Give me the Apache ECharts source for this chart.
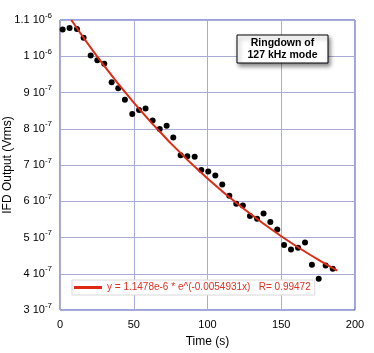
<!DOCTYPE html>
<html>
<head>
<meta charset="utf-8">
<script src="https://cdn.jsdelivr.net/npm/echarts@6/dist/echarts.min.js"></script>
<style>
  html, body { margin: 0; padding: 0; background: #fff; }
  #main { width: 374px; height: 353px; }
</style>
</head>
<body>
<div id="main"></div>
<script>
// measured points, time in s, output in units of 1e-7 Vrms
var timeS = [1.8, 6.5, 11.5, 16, 20.8, 25.3, 30, 35, 39.5, 44, 49, 53.6, 58, 62.8, 67.6, 72.3, 76.8, 81.8, 86.3, 91.3,
  95.8, 100.5, 105.3, 110, 114.8, 119.5, 124, 128.8, 133.6, 138, 142.6, 147.3, 151.9, 156.6, 161.4, 166.1, 170.8, 175.4, 180.1, 184.9];
var outputE7 = [10.74, 10.78, 10.75, 10.51, 10.02, 9.89, 9.79, 9.28, 9.12, 8.80, 8.41, 8.52, 8.56, 8.23, 7.99, 8.08, 7.76, 7.27, 7.24, 7.23,
  6.86, 6.82, 6.71, 6.46, 6.15, 5.93, 5.88, 5.59, 5.52, 5.66, 5.43, 5.22, 4.79, 4.67, 4.72, 4.86, 4.25, 3.86, 4.23, 4.14];

// fit curve
var fitTime = [7.7, 25, 50, 75, 100, 125, 150, 175, 188];
var fitValue = [11.0, 10.005, 8.721, 7.602, 6.627, 5.777, 5.035, 4.389, 4.086];

var fitName = 'y = 1.1478e-6 * e^(-0.0054931x)   R= 0.99472';

var yTicks = {
  3: '3 10{s|-7}', 4: '4 10{s|-7}', 5: '5 10{s|-7}', 6: '6 10{s|-7}', 7: '7 10{s|-7}',
  8: '8 10{s|-7}', 9: '9 10{s|-7}', 10: '1 10{s|-6}', 11: '1.1 10{s|-6}'
};

var myChart = echarts.init(document.getElementById('main'));

var pts = timeS.map(function (t, i) { return [t, outputE7[i]]; });
var fit = fitTime.map(function (t, i) { return [t, fitValue[i]]; });

var font = 'Liberation Sans, Arial, Helvetica, sans-serif';
var gridColor = '#aaaad6';
var frameColor = '#3347bb';

var option = {
  animation: false,
  textStyle: { fontFamily: font },
  grid: {
    left: 60, top: 20, width: 295, height: 290,
    containLabel: false, outerBoundsMode: 'none',
    show: true, borderColor: frameColor, borderWidth: 1, backgroundColor: '#fff'
  },
  xAxis: {
    type: 'value', min: 0, max: 200, interval: 50,
    name: 'Time (s)', nameLocation: 'middle', nameGap: 26,
    nameTextStyle: { color: '#000', fontSize: 12, fontFamily: font },
    axisLine: { show: false },
    axisTick: { show: false },
    axisLabel: { color: '#000', fontSize: 11, margin: 9 },
    splitLine: { lineStyle: { color: gridColor, width: 1 } }
  },
  yAxis: {
    type: 'value', min: 3, max: 11, interval: 1,
    name: 'IFD Output (Vrms)', nameLocation: 'middle', nameGap: 46, nameMoveOverlap: false,
    nameTextStyle: { color: '#000', fontSize: 12, fontFamily: font },
    axisLine: { show: false },
    axisTick: { show: false },
    axisLabel: {
      color: '#000', fontSize: 11, margin: 8,
      formatter: function (v) { return yTicks[Math.round(v)] || ''; },
      rich: {
        s: { fontSize: 8, verticalAlign: 'bottom', padding: [0, 0, 9, 0], color: '#000' }
      }
    },
    splitLine: { lineStyle: { color: gridColor, width: 1 } }
  },
  legend: {
    data: [{ name: fitName, icon: 'rect' }],
    left: 72, top: 280,
    itemWidth: 28, itemHeight: 3, itemGap: 4,
    padding: [2, 4, 2, 2],
    backgroundColor: '#fff', borderColor: '#d8d8d8', borderWidth: 1,
    textStyle: { color: '#e03020', fontSize: 10, fontFamily: font, lineHeight: 11 }
  },
  graphic: [
    { type: 'rect', x: 237, y: 35, z: 10, shape: { x: 0, y: 0, width: 91, height: 28 },
      style: { fill: '#fff', stroke: '#000', lineWidth: 1, shadowBlur: 4, shadowOffsetX: 2, shadowOffsetY: 3, shadowColor: 'rgba(0,0,0,0.45)' } },
    { type: 'text', x: 282.5, y: 37.5, z: 11,
      style: { text: 'Ringdown of\n127 kHz mode', fill: '#000', font: 'bold 10.5px ' + font, align: 'center', verticalAlign: 'top', lineHeight: 11.5 } }
  ],
  series: [
    {
      name: 'data', type: 'scatter', data: pts, symbolSize: 6,
      itemStyle: { color: '#000', opacity: 1 }, z: 3
    },
    {
      name: fitName, type: 'line', data: fit, smooth: true, symbol: 'none',
      lineStyle: { color: '#dd2a12', width: 2 }, itemStyle: { color: '#dd2a12' }, z: 4
    }
  ]
};

myChart.setOption(option);
</script>
</body>
</html>
